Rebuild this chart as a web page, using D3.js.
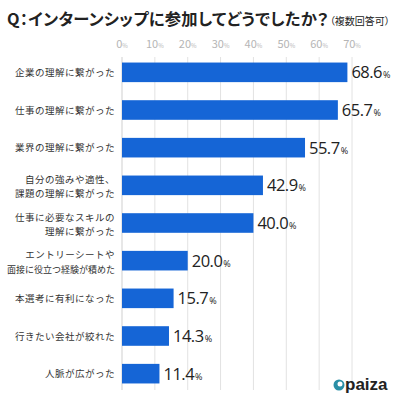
<!DOCTYPE html>
<html><head><meta charset="utf-8">
<script src="https://cdn.jsdelivr.net/npm/d3@7"></script>
<style>body{margin:0;background:#fff}svg{display:block}.palt{font-feature-settings:"palt" 1}</style>
</head><body>
<svg id="c" width="400" height="400"></svg>
<script>
const categories = [
  ["企業の理解に繋がった"],
  ["仕事の理解に繋がった"],
  ["業界の理解に繋がった"],
  ["自分の強みや適性、","課題の理解に繋がった"],
  ["仕事に必要なスキルの","理解に繋がった"],
  ["エントリーシートや","面接に役立つ経験が積めた"],
  ["本選考に有利になった"],
  ["行きたい会社が絞れた"],
  ["人脈が広がった"]
];
const values = [68.6, 65.7, 55.7, 42.9, 40.0, 20.0, 15.7, 14.3, 11.4];
const ticks = [0, 10, 20, 30, 40, 50, 60, 70];
const title = "Q：インターンシップに参加してどうでしたか？";
const subtitle = "（複数回答可）";

const svg = d3.select("#c");
const font = "'Noto Sans CJK JP','Noto Sans',sans-serif";
const x = d3.scaleLinear().domain([0, 70]).range([122, 352]);
const y = d3.scaleBand().domain(d3.range(values.length)).range([53.5, 392.5]).paddingInner(0.48).paddingOuter(0.24);

// title
const t = svg.append("text").attr("class", "palt").attr("x", 7).attr("y", 25).attr("font-family", font).attr("fill", "#222");
t.append("tspan").attr("font-size", 16.3).attr("font-weight", "bold").attr("letter-spacing", 0.3).text(title);
t.append("tspan").attr("font-size", 10).attr("dx", 1).text(subtitle);

// gridlines
svg.append("g").selectAll("line").data(ticks).join("line")
  .attr("x1", d => x(d)).attr("x2", d => x(d))
  .attr("y1", 57).attr("y2", 390)
  .attr("stroke", d => d === 0 ? "#cfcfcf" : "#e2e2e2").attr("stroke-width", 1);

// tick labels
const tl = svg.append("g").selectAll("text").data(ticks).join("text")
  .attr("x", d => x(d)).attr("y", 48).attr("text-anchor", "middle")
  .attr("font-family", font).attr("fill", "#b5b5b5");
tl.append("tspan").attr("font-size", 11).text(d => d);
tl.append("tspan").attr("font-size", 6).text("%");

// bars
svg.append("g").selectAll("rect").data(values).join("rect")
  .attr("x", x(0)).attr("y", (d, i) => y(i))
  .attr("width", d => x(d) - x(0)).attr("height", y.bandwidth())
  .attr("fill", "#1565d6");

// value labels
const vl = svg.append("g").selectAll("text").data(values).join("text")
  .attr("x", d => x(d) + 4).attr("y", (d, i) => y(i) + y.bandwidth() / 2 + 6)
  .attr("font-family", "'Open Sans','Noto Sans',sans-serif").attr("fill", "#222");
vl.append("tspan").attr("font-size", 16.5).attr("letter-spacing", -0.5).text(d => d.toFixed(1));
vl.append("tspan").attr("font-size", 9).attr("dx", 1).text("%");

// category labels
const cl = svg.append("g").selectAll("text").data(categories).join("text")
  .attr("text-anchor", "end").attr("font-family", font).attr("font-size", 9.5).attr("fill", "#333")
  .attr("transform", (d, i) => `translate(115,${y(i) + y.bandwidth() / 2})`);
cl.selectAll("tspan").data(d => d.map((s, j) => [s, j, d.length])).join("tspan")
  .attr("x", 0)
  .attr("y", d => d[2] === 1 ? 3.5 : (d[1] === 0 ? -2.5 : 12))
  .attr("letter-spacing", d => d[0].length > 10 ? 0 : 0.5)
  .attr("font-size", d => d[0].length > 10 ? 9 : 9.5)
  .text(d => d[0]);

// logo
const lg = svg.append("g");
lg.append("circle").attr("cx", 339).attr("cy", 385).attr("r", 5.5).attr("fill", "#2a8fa6");
lg.append("circle").attr("cx", 340).attr("cy", 384).attr("r", 2.5).attr("fill", "#fff");
lg.append("text").attr("x", 345).attr("y", 390).attr("font-family", "'Liberation Sans',Arial,sans-serif")
  .attr("font-weight", "bold").attr("font-size", 17).attr("fill", "#222").text("paiza");
</script>
</body></html>
